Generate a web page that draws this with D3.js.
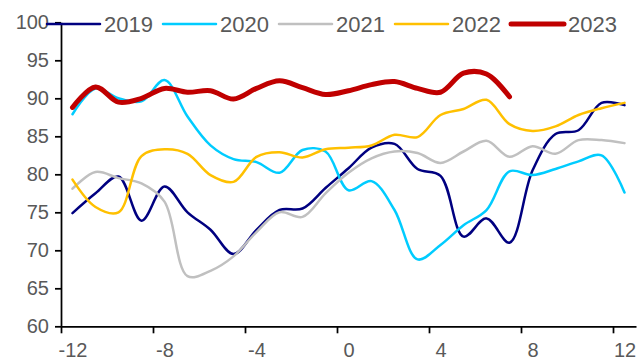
<!DOCTYPE html>
<html>
<head>
<meta charset="utf-8">
<script src="https://cdn.jsdelivr.net/npm/d3@7"></script>
<style>
  body { margin: 0; background: #fff; }
  svg { display: block; font-family: "Liberation Sans", Arial, sans-serif; }
  .axis text { fill: #595959; font-size: 20px; }
  .axis path, .axis line { stroke: #000; stroke-width: 1.75; }
</style>
</head>
<body>
<svg id="chart"></svg>
<script>
const weeks = [-12, -11, -10, -9, -8, -7, -6, -5, -4, -3, -2, -1, 0, 1, 2, 3, 4, 5, 6, 7, 8, 9, 10, 11, 12];
const xTickLabels = [-12, -8, -4, 0, 4, 8, 12];
const yTickLabels = [60, 65, 70, 75, 80, 85, 90, 95, 100];

const v2019 = [74.9, 77.5, 79.7, 73.9, 78.4, 75.0, 72.7, 69.5, 72.7, 75.3, 75.5, 78.2, 80.8, 83.5, 84.0, 80.7, 79.8, 71.8, 74.2, 71.0, 80.5, 85.3, 85.8, 89.4, 89.1];
const v2020 = [87.9, 91.3, 90.0, 89.6, 92.4, 87.6, 83.8, 82.0, 81.6, 80.2, 83.2, 83.0, 77.9, 79.1, 75.3, 68.8, 70.7, 73.3, 75.3, 80.4, 79.9, 80.7, 81.7, 82.5, 77.6];
const v2021 = [78.1, 80.3, 79.5, 78.8, 76.4, 66.6, 67.3, 69.2, 72.4, 75.0, 74.4, 77.5, 80.2, 82.1, 83.0, 82.8, 81.5, 83.0, 84.4, 82.3, 83.7, 82.7, 84.5, 84.5, 84.1];
const v2022 = [79.3, 75.7, 75.0, 82.4, 83.3, 82.7, 79.9, 79.0, 82.3, 82.9, 82.2, 83.3, 83.5, 83.8, 85.2, 84.9, 87.8, 88.6, 89.8, 86.6, 85.7, 86.3, 87.8, 88.7, 89.4];
const v2023 = [88.8, 91.5, 89.5, 90.0, 91.3, 90.8, 91.0, 89.9, 91.3, 92.3, 91.4, 90.5, 91.0, 91.8, 92.2, 91.3, 90.8, 93.3, 93.2, 90.2];

const series = [
  { name: "2019", values: v2019, color: "#000080", width: 2.5 },
  { name: "2020", values: v2020, color: "#00CCFF", width: 2.5 },
  { name: "2021", values: v2021, color: "#C0C0C0", width: 2.5 },
  { name: "2022", values: v2022, color: "#FFC000", width: 2.5 },
  { name: "2023", values: v2023, color: "#C00000", width: 5 }
];

const width = 638;
const height = 360;

const svg = d3.select("#chart")
  .attr("width", width)
  .attr("height", height);

// category axis: each week is one slot, ticks sit between slots
const x = d3.scaleLinear().domain([-12.5, 12.5]).range([61, 636]);
const y = d3.scaleLinear().domain([60, 100]).range([326.3, 22.3]);

svg.append("g")
  .attr("class", "axis")
  .attr("transform", `translate(0, ${y(60)})`)
  .call(d3.axisBottom(x)
    .tickValues(xTickLabels.map(d => d - 0.5))
    .tickSize(7)
    .tickSizeOuter(0)
    .tickFormat(""));

svg.append("g")
  .attr("class", "axis")
  .attr("transform", `translate(0, ${y(60)})`)
  .call(d3.axisBottom(x)
    .tickValues(xTickLabels)
    .tickSize(0)
    .tickPadding(17)
    .tickFormat(d => String(d)))
  .call(g => g.select(".domain").remove());

svg.append("g")
  .attr("class", "axis")
  .attr("transform", `translate(${x(-12.5)}, 0)`)
  .call(d3.axisLeft(y)
    .tickValues(yTickLabels)
    .tickSize(6)
    .tickSizeOuter(0)
    .tickPadding(6));

const line = d3.line()
  .x((d, i) => x(weeks[i]))
  .y(d => y(d))
  .curve(d3.curveCatmullRom);

svg.selectAll(".series")
  .data(series)
  .enter()
  .append("path")
  .attr("class", "series")
  .attr("fill", "none")
  .attr("stroke", d => d.color)
  .attr("stroke-width", d => d.width)
  .attr("stroke-linejoin", "round")
  .attr("stroke-linecap", "round")
  .attr("d", d => line(d.values));

// legend across the top
const legend = svg.append("g")
  .selectAll("g")
  .data(series)
  .enter()
  .append("g")
  .attr("transform", (d, i) => `translate(${47 + i * 116}, 24)`);

legend.append("line")
  .attr("x1", 0)
  .attr("x2", 53)
  .attr("stroke", d => d.color)
  .attr("stroke-width", d => d.width)
  .attr("stroke-linecap", "round");

legend.append("text")
  .attr("x", 57)
  .attr("y", 8)
  .attr("fill", "#595959")
  .attr("font-size", 22)
  .text(d => d.name);
</script>
</body>
</html>
